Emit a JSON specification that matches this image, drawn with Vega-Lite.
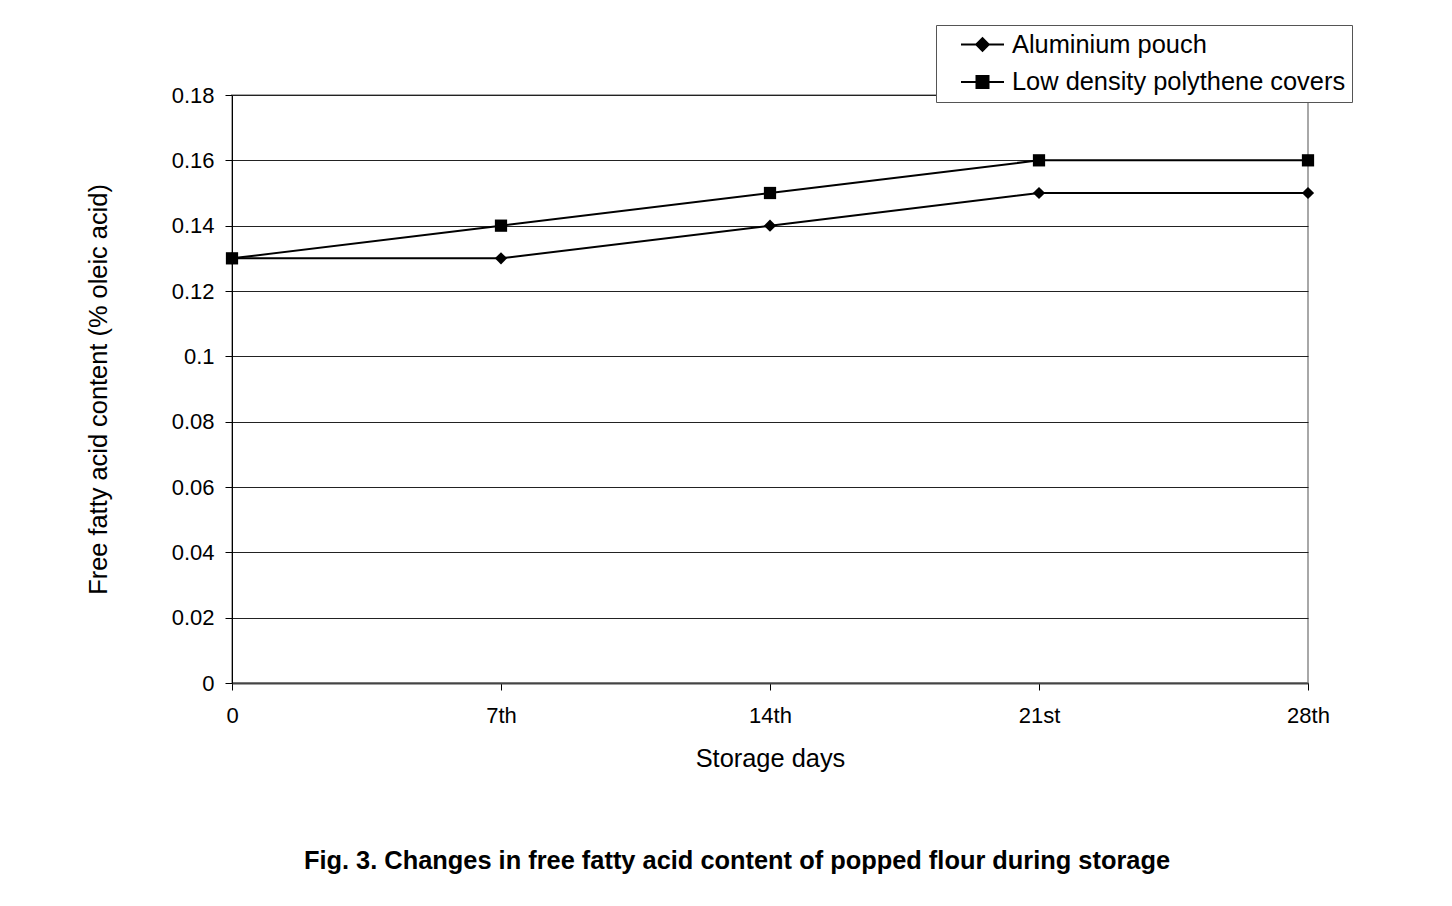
{
  "$schema": "https://vega.github.io/schema/vega-lite/v6.json",
  "autosize": {"type": "none"},
  "width": 1076,
  "height": 588,
  "padding": {"left": 232, "top": 95, "right": 144, "bottom": 223},
  "background": "white",
  "config": {
    "font": "Liberation Sans",
    "view": {"stroke": "#a8a8a8", "strokeWidth": 2}
  },
  "title": {
    "text": "Fig. 3. Changes in free fatty acid content of popped flour during storage",
    "orient": "bottom",
    "anchor": "middle",
    "dx": -33,
    "offset": 78,
    "fontSize": 25.4,
    "fontWeight": "bold",
    "font": "Liberation Sans",
    "color": "black"
  },
  "data": {
    "values": [
      {"day": "0", "series": "Aluminium pouch", "ffa": 0.13},
      {"day": "7th", "series": "Aluminium pouch", "ffa": 0.13},
      {"day": "14th", "series": "Aluminium pouch", "ffa": 0.14},
      {"day": "21st", "series": "Aluminium pouch", "ffa": 0.15},
      {"day": "28th", "series": "Aluminium pouch", "ffa": 0.15},
      {"day": "0", "series": "Low density polythene covers", "ffa": 0.13},
      {"day": "7th", "series": "Low density polythene covers", "ffa": 0.14},
      {"day": "14th", "series": "Low density polythene covers", "ffa": 0.15},
      {"day": "21st", "series": "Low density polythene covers", "ffa": 0.16},
      {"day": "28th", "series": "Low density polythene covers", "ffa": 0.16}
    ]
  },
  "encoding": {
    "x": {
      "field": "day",
      "type": "ordinal",
      "sort": ["0", "7th", "14th", "21st", "28th"],
      "scale": {"type": "point", "padding": 0},
      "axis": {
        "title": "Storage days",
        "titleFontSize": 25.4,
        "titleFontWeight": "normal",
        "titleColor": "black",
        "titleY": 75,
        "titleBaseline": "middle",
        "labelAngle": 0,
        "labelFontSize": 22,
        "labelColor": "black",
        "labelPadding": 15,
        "tickSize": 7,
        "tickColor": "black",
        "domainColor": "#444",
        "domainWidth": 2,
        "grid": false
      }
    },
    "y": {
      "field": "ffa",
      "type": "quantitative",
      "scale": {"domain": [0, 0.18], "nice": false},
      "axis": {
        "title": "Free fatty acid content (% oleic acid)",
        "titleFontSize": 25.4,
        "titleFontWeight": "normal",
        "titleColor": "black",
        "titleX": -134,
        "titleY": 294,
        "titleAngle": -90,
        "titleAlign": "center",
        "titleBaseline": "middle",
        "values": [0, 0.02, 0.04, 0.06, 0.08, 0.1, 0.12, 0.14, 0.16, 0.18],
        "labelExpr": "datum.value == 0 ? '0' : format(datum.value, '.2~f')",
        "labelFontSize": 22,
        "labelColor": "black",
        "labelPadding": 11,
        "tickSize": 7,
        "tickColor": "black",
        "domainColor": "black",
        "grid": true,
        "gridColor": "#222",
        "gridWidth": 1
      }
    }
  },
  "layer": [
    {
      "mark": {"type": "line", "strokeWidth": 2},
      "encoding": {
        "color": {
          "field": "series",
          "type": "nominal",
          "scale": {"range": ["black", "black"]},
          "legend": {
            "title": null,
            "orient": "none",
            "legendX": 704,
            "legendY": -70,
            "fillColor": "white",
            "strokeColor": "#555",
            "padding": 6,
            "labelFontSize": 25.4,
            "labelColor": "black",
            "labelFont": "Liberation Sans",
            "labelLimit": 600,
            "labelOffset": 43,
            "labelExpr": "datum.label + '\u00a0\u00a0'",
            "rowPadding": 10.5,
            "symbolSize": 625,
            "symbolStrokeWidth": 2,
            "encode": {
              "symbols": {
                "update": {
                  "shape": {"signal": "datum.value == 'Aluminium pouch' ? 'M0.44,0H3.88M1.66,0L2.16,-0.5L2.66,0L2.16,0.5Z' : 'M0.44,0H3.88M1.68,-0.48H2.64V0.48H1.68Z'"},
                  "fill": {"value": "black"},
                  "stroke": {"value": "black"},
                  "strokeWidth": {"value": 2},
                  "opacity": {"value": 1}
                }
              }
            }
          }
        }
      }
    },
    {
      "mark": {"type": "point", "filled": true, "opacity": 1, "color": "black"},
      "encoding": {
        "shape": {
          "field": "series",
          "type": "nominal",
          "scale": {"range": ["diamond", "square"]},
          "legend": null
        },
        "size": {"value": 150}
      }
    }
  ]
}
